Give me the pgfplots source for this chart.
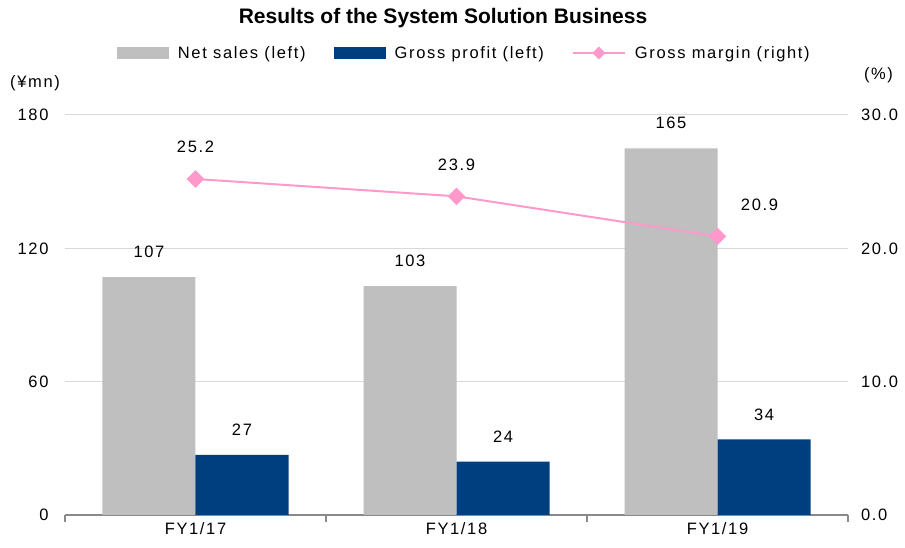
\documentclass[border=0pt]{standalone}
\usepackage{fontspec}
\setmainfont{Liberation Sans}[LetterSpace=10]
\newfontfamily\titlefont{Liberation Sans}[]
\usepackage{pgfplots}
\pgfplotsset{compat=1.18}
\definecolor{barGray}{HTML}{BFBFBF}
\definecolor{navy}{HTML}{003F7F}
\definecolor{pinkline}{HTML}{FF99CC}
\definecolor{gridc}{HTML}{D9D9D9}
\definecolor{axisc}{HTML}{898989}
\newcommand{\lbl}{\fontsize{16.5}{19}\selectfont}
\pgfplotsset{
  barlegend/.style={legend image code/.code={\fill[##1] (0pt,-6pt) rectangle (52pt,6pt);}},
  linelegend/.style={legend image code/.code={\draw[mark repeat=2, mark phase=2, ##1, mark size=3.6pt] plot coordinates {(0pt,0pt) (26pt,0pt) (52pt,0pt)};}},
}
\begin{document}
\begin{tikzpicture}
\pgfplotsset{
  base/.style={
    width=783pt, height=400pt, scale only axis,
    xmin=-0.5, xmax=2.5,
    font=\lbl,
    /pgf/number format/assume math mode=true,
    clip=false,
  }
}
\begin{axis}[base, name=main,
  ymin=0, ymax=180, ytick={0,60,120,180},
  ymajorgrids, grid style={gridc, line width=1pt},
  axis x line*=bottom, axis y line*=left,
  y axis line style={draw=none},
  x axis line style={axisc, line width=2pt},
  ytick style={draw=none},
  yticklabel style={xshift=-13pt},
  xtick={0,1,2}, xticklabels={FY1/17,FY1/18,FY1/19},
  xtick style={draw=none},
  xticklabel style={yshift=-4pt},
  extra x ticks={-0.5,0.5,1.5,2.5}, extra x tick labels={},
  extra x tick style={xtick style={draw=axisc, line width=2pt}, major tick length=7pt, tick align=outside, grid=none},
  nodes near coords,
  every node near coord/.append style={font=\lbl, anchor=south, inner sep=0pt, yshift=19pt},
]
\addplot[ybar, bar width=93pt, bar shift=-46.5pt, fill=barGray, draw=none,
  every node near coord/.append style={xshift=-46.5pt}] coordinates {(0,107) (1,103) (2,165)};
\addplot[ybar, bar width=93pt, bar shift=46.5pt, fill=navy, draw=none,
  every node near coord/.append style={xshift=46.5pt}] coordinates {(0,27) (1,24) (2,34)};
\node[font=\lbl, xshift=-30pt, yshift=32pt] at (rel axis cs:0,1) {(¥mn)};
\node[font=\titlefont\bfseries\fontsize{21}{24}\selectfont] at (rel axis cs:0.4828,1.2425) {Results of the System Solution Business};
\end{axis}
\begin{axis}[base,
  ymin=0, ymax=30, ytick={0,10,20,30},
  axis y line*=right, axis x line=none, xtick=\empty,
  y axis line style={draw=none}, ytick style={draw=none},
  yticklabel style={xshift=9.5pt, /pgf/number format/.cd, fixed, fixed zerofill, precision=1},
  legend columns=3,
  legend style={draw=none, fill=none, at={(0.510,1.155)}, anchor=center, font=\lbl,
    /tikz/every odd column/.append style={column sep=7pt},
    /tikz/every even column/.append style={column sep=26pt}},
]
\addlegendimage{fill=barGray, draw=none, barlegend}
\addlegendentry{Net sales (left)}
\addlegendimage{fill=navy, draw=none, barlegend}
\addlegendentry{Gross profit (left)}
\addplot[pinkline, line width=2pt, mark=square*, mark size=5.2pt, mark options={fill=pinkline, draw=none, rotate=45},
  linelegend,
  nodes near coords={\pgfmathprintnumber[fixed, fixed zerofill, precision=1]{\pgfplotspointmeta}},
  every node near coord/.append style={font=\lbl, text=black, anchor=south, inner sep=0pt, yshift=25pt},
  coordinate style/.condition={x==2}{xshift=42pt},
] coordinates {(0,25.2) (1,23.9) (2,20.9)};
\addlegendentry{Gross margin (right)}
\node[font=\lbl, xshift=30.5pt, yshift=40pt] at (rel axis cs:1,1) {(\%)};
\end{axis}
\pgfresetboundingbox
\path (main.south west) ++(-65pt,-33pt) rectangle ++(905pt,548pt);
\end{tikzpicture}
\end{document}
